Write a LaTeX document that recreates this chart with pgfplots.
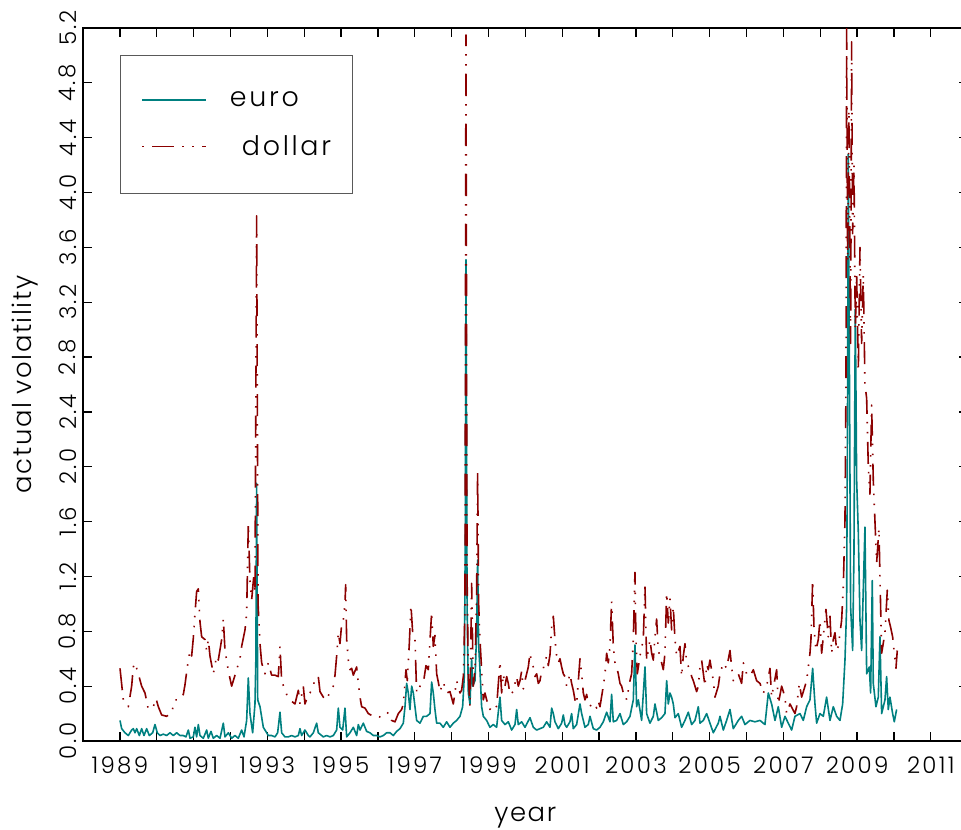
\documentclass[border=0pt]{standalone}
\usepackage{fontspec}
\setmainfont{Poppins}[UprightFont={* Light}]
\usepackage{pgfplots}
\pgfplotsset{compat=1.18}
\definecolor{euroc}{RGB}{0,128,128}
\definecolor{dollc}{RGB}{139,0,0}
\begin{document}
\begin{tikzpicture}
\useasboundingbox (-83bp,-89bp) rectangle (878bp,741bp);
\clip (-83bp,-89bp) rectangle (878bp,741bp);
\begin{axis}[
  scale only axis, width=884.6bp, height=713bp,
  xmin=1988, xmax=2012, ymin=0, ymax=5.2,
  xtick={1989,1991,...,2011}, minor xtick={1988,1990,...,2012},
  ytick={0,0.4,0.8,1.2,1.6,2.0,2.4,2.8,3.2,3.6,4.0,4.4,4.8,5.2},
  tick align=inside, major tick length=9bp, minor tick length=9bp,
  every tick/.style={black, line width=1.3bp},
  axis line style={line width=2bp},
  no markers,
  /pgf/number format/assume math mode=true,
  tick label style={font=\fontsize{23}{27}\selectfont\addfontfeature{LetterSpace=10}},
  xticklabel shift=12bp, yticklabel shift=3bp,
  xticklabel style={/pgf/number format/1000 sep={}},
  yticklabel style={rotate=90, anchor=south, /pgf/number format/.cd, fixed, fixed zerofill, precision=1},
  xlabel={year}, ylabel={actual volatility},
  label style={font=\fontsize{26}{30}\selectfont\addfontfeature{LetterSpace=6}},
  xlabel style={at={(axis description cs:0.5,-0.107)}, anchor=center},
  ylabel style={at={(axis description cs:-0.0656,0.5)}, anchor=center},
  legend style={at={(axis description cs:0.0418,0.962)}, anchor=north west, draw=black!65, line width=1bp,
    inner xsep=21bp, inner ysep=36bp, row sep=28bp, font=\fontsize{27}{31}\selectfont\addfontfeature{LetterSpace=10},
    nodes={inner sep=0pt}, cells={anchor=west},
    /tikz/every odd column/.style={column sep=23bp}},
  legend image code/.code={\draw[#1, line width=1.5bp, dash phase=40bp] (0bp,0bp) -- (64bp,0bp);},
]
\addplot[euroc, line width=1.6bp, line join=round] coordinates {
(1989.004,0.15)(1989.049,0.09)(1989.139,0.06)(1989.230,0.04)(1989.320,0.08)(1989.365,0.09)(1989.411,0.06)(1989.456,0.09)(1989.528,0.04)(1989.591,0.09)(1989.655,0.04)(1989.727,0.09)(1989.799,0.04)(1989.890,0.06)(1989.953,0.12)(1990.016,0.06)(1990.089,0.04)(1990.179,0.05)(1990.270,0.04)(1990.360,0.06)(1990.451,0.04)(1990.541,0.06)(1990.631,0.04)(1990.722,0.04)(1990.794,0.03)(1990.858,0.08)(1990.903,0.02)(1990.993,0.03)(1991.038,0.10)(1991.083,0.03)(1991.129,0.12)(1991.174,0.04)(1991.264,0.02)(1991.355,0.08)(1991.400,0.02)(1991.472,0.07)(1991.536,0.02)(1991.626,0.04)(1991.717,0.02)(1991.807,0.13)(1991.852,0.03)(1991.943,0.06)(1992.033,0.02)(1992.123,0.04)(1992.214,0.02)(1992.304,0.08)(1992.368,0.03)(1992.440,0.15)(1992.485,0.46)(1992.530,0.20)(1992.603,0.06)(1992.666,0.27)(1992.690,0.60)(1992.711,1.88)(1992.740,0.30)(1992.802,0.25)(1992.892,0.10)(1992.983,0.06)(1993.028,0.04)(1993.118,0.04)(1993.209,0.03)(1993.281,0.06)(1993.344,0.21)(1993.390,0.06)(1993.480,0.03)(1993.570,0.03)(1993.661,0.04)(1993.751,0.03)(1993.842,0.04)(1993.887,0.09)(1993.932,0.04)(1994.022,0.08)(1994.113,0.04)
(1994.158,0.03)(1994.249,0.06)(1994.339,0.13)(1994.384,0.06)(1994.520,0.03)(1994.610,0.04)(1994.701,0.03)(1994.791,0.04)(1994.882,0.08)(1994.927,0.24)(1994.972,0.10)(1995.045,0.08)(1995.108,0.24)(1995.153,0.03)(1995.244,0.06)(1995.334,0.10)(1995.424,0.04)(1995.470,0.12)(1995.515,0.08)(1995.605,0.13)(1995.696,0.07)(1995.786,0.06)(1995.876,0.04)(1995.967,0.04)(1996.057,0.03)(1996.148,0.04)(1996.238,0.06)(1996.329,0.06)(1996.419,0.04)(1996.509,0.07)(1996.600,0.09)(1996.690,0.13)(1996.736,0.25)(1996.781,0.42)(1996.826,0.35)(1996.871,0.23)(1996.917,0.40)(1996.962,0.35)(1997.007,0.25)(1997.052,0.15)(1997.143,0.13)(1997.233,0.18)(1997.323,0.18)(1997.414,0.20)(1997.459,0.43)(1997.504,0.35)(1997.549,0.23)(1997.595,0.13)(1997.685,0.13)(1997.775,0.10)(1997.866,0.14)(1997.956,0.10)(1998.047,0.13)(1998.137,0.15)(1998.228,0.18)(1998.300,0.25)(1998.345,0.47)(1998.372,1.50)(1998.390,3.51)(1998.420,1.00)(1998.454,0.35)(1998.499,0.27)(1998.544,0.60)(1998.571,0.40)(1998.635,0.44)(1998.680,0.80)(1998.707,1.32)(1998.734,0.70)(1998.770,0.52)(1998.815,0.25)(1998.861,0.18)(1998.951,0.15)(1999.041,0.10)(1999.132,0.12)(1999.222,0.10)
(1999.313,0.32)(1999.358,0.15)(1999.449,0.12)(1999.539,0.14)(1999.630,0.08)(1999.720,0.12)(1999.765,0.23)(1999.810,0.12)(1999.901,0.14)(1999.991,0.10)(2000.127,0.17)(2000.217,0.10)(2000.308,0.08)(2000.398,0.09)(2000.489,0.10)(2000.579,0.14)(2000.670,0.10)(2000.715,0.24)(2000.760,0.20)(2000.805,0.14)(2000.896,0.09)(2000.986,0.13)(2001.031,0.19)(2001.076,0.12)(2001.122,0.10)(2001.212,0.14)(2001.257,0.20)(2001.302,0.09)(2001.393,0.12)(2001.483,0.27)(2001.529,0.20)(2001.619,0.10)(2001.709,0.12)(2001.755,0.18)(2001.845,0.09)(2001.935,0.08)(2002.026,0.10)(2002.116,0.14)(2002.207,0.21)(2002.297,0.14)(2002.342,0.34)(2002.388,0.14)(2002.478,0.15)(2002.569,0.20)(2002.659,0.12)(2002.749,0.14)(2002.840,0.18)(2002.930,0.30)(2002.975,0.70)(2003.020,0.25)(2003.066,0.30)(2003.156,0.15)(2003.247,0.54)(2003.292,0.20)(2003.382,0.13)(2003.473,0.18)(2003.518,0.27)(2003.608,0.15)(2003.699,0.17)(2003.789,0.20)(2003.835,0.44)(2003.880,0.27)(2003.925,0.35)(2003.970,0.32)(2004.015,0.27)(2004.061,0.17)(2004.151,0.20)(2004.241,0.10)(2004.332,0.15)(2004.422,0.21)(2004.513,0.12)(2004.603,0.15)(2004.694,0.25)(2004.739,0.13)(2004.829,0.15)(2004.920,0.20)(2005.010,0.13)
(2005.101,0.06)(2005.236,0.13)(2005.282,0.18)(2005.372,0.08)(2005.462,0.15)(2005.553,0.23)(2005.643,0.09)(2005.779,0.15)(2005.869,0.18)(2005.960,0.12)(2006.095,0.15)(2006.231,0.14)(2006.367,0.15)(2006.502,0.12)(2006.593,0.35)(2006.683,0.27)(2006.774,0.15)(2006.864,0.25)(2006.955,0.10)(2007.045,0.18)(2007.135,0.13)(2007.226,0.08)(2007.316,0.18)(2007.452,0.20)(2007.542,0.15)(2007.633,0.25)(2007.723,0.30)(2007.796,0.53)(2007.859,0.27)(2007.904,0.13)(2007.994,0.20)(2008.085,0.18)(2008.175,0.32)(2008.266,0.15)(2008.356,0.25)(2008.447,0.18)(2008.537,0.15)(2008.610,0.27)(2008.673,0.59)(2008.718,0.98)(2008.745,2.60)(2008.763,4.28)(2008.790,2.90)(2008.826,0.98)(2008.881,0.66)(2008.917,1.37)(2008.953,3.15)(2008.990,1.90)(2009.035,1.52)(2009.080,0.88)(2009.125,0.66)(2009.215,1.56)(2009.261,0.49)(2009.333,0.54)(2009.369,0.35)(2009.414,1.17)(2009.441,0.42)(2009.513,0.25)(2009.577,0.32)(2009.622,0.76)(2009.668,0.20)(2009.758,0.30)(2009.803,0.47)(2009.848,0.23)(2009.893,0.32)(2009.966,0.20)(2010.011,0.14)(2010.074,0.23)
};
\addlegendentry{euro}
\addplot[dollc, line width=1.6bp, line join=round, dash pattern=on 22bp off 8bp on 1.5bp off 8.5bp on 1.5bp off 8.5bp] coordinates {
(1989.004,0.53)(1989.094,0.30)(1989.230,0.25)(1989.320,0.40)(1989.365,0.54)(1989.411,0.57)(1989.501,0.49)(1989.591,0.40)(1989.682,0.35)(1989.772,0.23)(1989.908,0.25)(1989.980,0.31)(1990.044,0.25)(1990.134,0.19)(1990.270,0.18)(1990.405,0.21)(1990.496,0.30)(1990.631,0.30)(1990.722,0.34)(1990.767,0.41)(1990.830,0.54)(1990.903,0.66)(1990.948,0.62)(1990.993,0.75)(1991.038,0.93)(1991.083,1.09)(1991.129,1.11)(1991.174,0.87)(1991.219,0.76)(1991.310,0.74)(1991.355,0.66)(1991.400,0.74)(1991.445,0.62)(1991.536,0.49)(1991.626,0.62)(1991.671,0.59)(1991.762,0.74)(1991.807,0.89)(1991.852,0.66)(1991.897,0.59)(1991.943,0.51)(1992.033,0.40)(1992.169,0.52)(1992.259,0.60)(1992.304,0.69)(1992.395,0.81)(1992.440,0.93)(1992.485,1.58)(1992.530,1.17)(1992.576,1.03)(1992.639,1.22)(1992.666,1.08)(1992.711,3.83)(1992.750,1.00)(1992.802,0.71)(1992.847,0.57)(1992.937,0.49)(1993.028,0.57)(1993.118,0.48)(1993.209,0.48)(1993.299,0.47)(1993.344,0.69)(1993.390,0.44)(1993.480,0.37)(1993.570,0.31)(1993.661,0.29)(1993.751,0.27)(1993.842,0.37)(1993.887,0.27)(1993.977,0.40)(1994.022,0.27)(1994.113,0.34)
(1994.158,0.35)(1994.249,0.40)(1994.294,0.46)(1994.384,0.47)(1994.430,0.36)(1994.520,0.32)(1994.610,0.30)(1994.701,0.36)(1994.791,0.40)(1994.837,0.48)(1994.882,0.62)(1994.927,0.79)(1994.972,0.71)(1995.017,0.85)(1995.063,0.88)(1995.108,1.00)(1995.126,1.14)(1995.153,0.74)(1995.198,0.59)(1995.244,0.52)(1995.289,0.53)(1995.334,0.48)(1995.424,0.54)(1995.470,0.42)(1995.515,0.32)(1995.560,0.25)(1995.650,0.24)(1995.741,0.20)(1995.876,0.18)(1996.012,0.18)(1996.103,0.17)(1996.193,0.18)(1996.283,0.21)(1996.374,0.15)(1996.464,0.14)(1996.555,0.20)(1996.645,0.23)(1996.690,0.27)(1996.763,0.52)(1996.799,0.44)(1996.853,0.71)(1996.898,0.99)(1996.944,0.79)(1997.007,0.74)(1997.052,0.35)(1997.143,0.40)(1997.233,0.42)(1997.305,0.55)(1997.368,0.52)(1997.459,0.94)(1997.504,0.69)(1997.549,0.77)(1997.595,0.49)(1997.640,0.43)(1997.685,0.36)(1997.775,0.43)(1997.866,0.35)(1997.956,0.36)(1998.047,0.27)(1998.137,0.44)(1998.228,0.35)(1998.273,0.37)(1998.318,0.47)(1998.363,0.96)(1998.390,5.15)(1998.420,1.20)(1998.454,0.47)(1998.499,0.25)(1998.544,1.15)(1998.589,0.40)(1998.635,0.52)(1998.680,1.08)(1998.707,1.98)(1998.734,1.00)(1998.770,0.74)(1998.815,0.52)(1998.861,0.30)(1998.906,0.35)(1998.951,0.30)(1999.041,0.23)(1999.132,0.27)(1999.222,0.25)
(1999.313,0.58)(1999.358,0.35)(1999.403,0.49)(1999.449,0.40)(1999.494,0.47)(1999.539,0.42)(1999.584,0.34)(1999.675,0.36)(1999.720,0.42)(1999.765,0.47)(1999.810,0.40)(1999.856,0.44)(1999.901,0.51)(1999.946,0.38)(1999.991,0.44)(2000.082,0.54)(2000.127,0.64)(2000.172,0.57)(2000.217,0.54)(2000.263,0.47)(2000.308,0.49)(2000.353,0.42)(2000.398,0.44)(2000.443,0.51)(2000.489,0.53)(2000.579,0.62)(2000.624,0.55)(2000.670,0.63)(2000.715,0.83)(2000.760,0.91)(2000.805,0.74)(2000.850,0.62)(2000.896,0.57)(2000.941,0.60)(2000.986,0.54)(2001.031,0.49)(2001.076,0.47)(2001.122,0.40)(2001.167,0.44)(2001.212,0.49)(2001.257,0.42)(2001.302,0.37)(2001.348,0.30)(2001.393,0.27)(2001.483,0.60)(2001.529,0.49)(2001.574,0.35)(2001.619,0.30)(2001.664,0.34)(2001.709,0.27)(2001.755,0.26)(2001.845,0.25)(2001.890,0.27)(2001.935,0.24)(2001.981,0.29)(2002.026,0.25)(2002.116,0.40)(2002.162,0.49)(2002.207,0.64)(2002.252,0.57)(2002.297,0.69)(2002.342,1.02)(2002.388,0.69)(2002.433,0.57)(2002.478,0.54)(2002.523,0.49)(2002.569,0.42)(2002.614,0.40)(2002.659,0.35)(2002.704,0.35)(2002.749,0.30)(2002.795,0.37)(2002.840,0.44)(2002.885,0.49)(2002.930,0.74)(2002.975,1.23)(2003.002,0.74)(2003.039,0.49)(2003.111,0.62)(2003.201,0.74)(2003.247,1.13)(2003.292,0.59)(2003.337,0.66)(2003.382,0.74)(2003.428,0.64)(2003.473,0.59)(2003.518,0.76)(2003.563,0.89)(2003.608,0.66)(2003.654,0.62)(2003.699,0.57)(2003.744,0.52)(2003.789,0.64)(2003.835,1.08)(2003.880,0.86)(2003.925,1.04)(2003.970,0.81)(2004.015,0.98)(2004.061,0.74)(2004.106,0.62)(2004.196,0.69)(2004.241,0.47)(2004.287,0.62)(2004.332,0.71)(2004.377,0.57)(2004.468,0.52)(2004.513,0.47)(2004.558,0.44)(2004.648,0.36)(2004.694,0.40)(2004.739,0.54)(2004.784,0.59)(2004.875,0.40)(2004.920,0.56)(2004.965,0.52)
(2005.010,0.59)(2005.101,0.44)(2005.146,0.32)(2005.236,0.40)(2005.282,0.49)(2005.372,0.57)(2005.462,0.53)(2005.553,0.66)(2005.598,0.54)(2005.643,0.44)(2005.734,0.47)(2005.779,0.49)(2005.869,0.42)(2005.915,0.57)(2006.005,0.49)(2006.095,0.47)(2006.186,0.52)(2006.276,0.44)(2006.367,0.42)(2006.457,0.35)(2006.548,0.40)(2006.638,0.53)(2006.683,0.32)(2006.819,0.52)(2006.864,0.27)(2006.955,0.40)(2007.045,0.32)(2007.090,0.20)(2007.181,0.27)(2007.316,0.20)(2007.361,0.25)(2007.434,0.42)(2007.497,0.32)(2007.588,0.40)(2007.633,0.44)(2007.678,0.54)(2007.723,0.64)(2007.750,0.74)(2007.796,1.17)(2007.832,0.83)(2007.886,0.66)(2007.949,0.74)(2007.994,0.88)(2008.040,0.64)(2008.085,0.76)(2008.157,0.96)(2008.220,0.76)(2008.266,0.91)(2008.311,0.64)(2008.356,0.74)(2008.401,0.79)(2008.447,0.66)(2008.492,0.69)(2008.582,0.88)(2008.628,1.13)(2008.673,1.61)(2008.700,2.60)(2008.718,5.20)(2008.745,3.50)(2008.780,4.60)(2008.826,2.90)(2008.853,5.10)(2008.880,3.70)(2008.917,4.20)(2008.953,3.00)(2008.990,3.40)(2009.035,2.70)(2009.080,3.60)(2009.125,2.90)(2009.170,3.40)(2009.215,2.60)(2009.261,2.50)(2009.306,2.00)(2009.350,1.80)(2009.396,2.45)(2009.441,1.90)(2009.487,1.60)(2009.532,1.30)(2009.595,1.55)(2009.622,1.20)(2009.668,0.64)(2009.758,0.79)(2009.821,1.10)(2009.866,0.88)(2009.911,0.83)(2009.966,0.76)(2010.011,0.64)(2010.056,0.53)(2010.092,0.66)
};
\addlegendentry{\hspace*{12bp}dollar}
\end{axis}
\end{tikzpicture}
\end{document}
